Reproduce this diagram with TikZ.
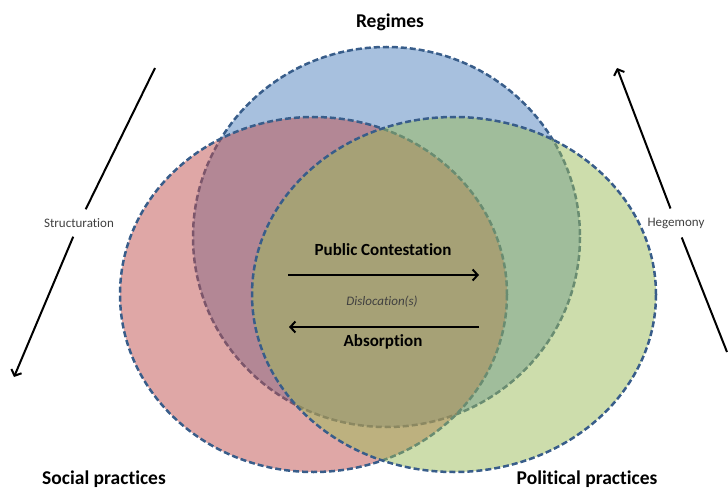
\documentclass[tikz,border=0pt]{standalone}
\usepackage{fontspec}
\setmainfont{Carlito}[Ligatures=NoCommon]
\usetikzlibrary{arrows.meta}
\definecolor{regblue}{HTML}{4F81BD}
\definecolor{socred}{HTML}{C0504D}
\definecolor{polgreen}{HTML}{9BBB59}
\definecolor{rim}{HTML}{385D8A}
\definecolor{grautext}{HTML}{404040}
\begin{document}
\begin{tikzpicture}[x=1pt,y=-1pt,>={Straight Barb[length=5pt,width=11pt]},
	kreis/.style={draw=rim,line width=2.5pt,dash pattern=on 6pt off 3pt,fill opacity=0.5},
	titel/.style={font=\bfseries\fontsize{19.5}{22}\selectfont},
	mitte/.style={font=\bfseries\fontsize{17}{20}\selectfont},
	klein/.style={font=\fontsize{13}{15}\selectfont,text=grautext},
	pfeil/.style={->,line width=2pt}]
\useasboundingbox (0,0) rectangle (728,489);
% die drei Bereiche
\draw[kreis,fill=regblue] (386.5,237) ellipse [x radius=193.5, y radius=190];
\draw[kreis,fill=socred] (313.5,294.5) ellipse [x radius=193.5, y radius=177.5];
\draw[kreis,fill=polgreen] (454,294.5) ellipse [x radius=202, y radius=177.5];
% Beschriftungen
\node[titel] (regimes) at (390,22) {Regimes};
\node[titel] (social) at (104,479) {Social practices};
\node[titel] (political) at (587,479) {Political practices};
\node[mitte] (contest) at (383,250) {Public Contestation};
\node[klein,font=\itshape\fontsize{13}{15}\selectfont] (disloc) at (382,302) {Dislocation(s)};
\node[mitte] (absorb) at (383,342) {Absorption};
\node[klein,inner sep=9pt] (struct) at (79,223) {Structuration};
\node[klein,inner sep=9pt] (hegem) at (676,223) {Hegemony};
% Pfeile
\coordinate (s top) at (155,68);
\coordinate (s tip) at (14,377);
\coordinate (h foot) at (727,352);
\coordinate (h tip) at (617,68);
\coordinate (c from) at (288,275);
\coordinate (c to) at (479,275);
\coordinate (a from) at (479,327);
\coordinate (a to) at (289,327);
\draw[pfeil] (s top) -- (struct) -- (s tip);
\draw[pfeil] (h foot) -- (hegem) -- (h tip);
\draw[pfeil] (c from) -- (c to);
\draw[pfeil] (a from) -- (a to);
\end{tikzpicture}
\end{document}
